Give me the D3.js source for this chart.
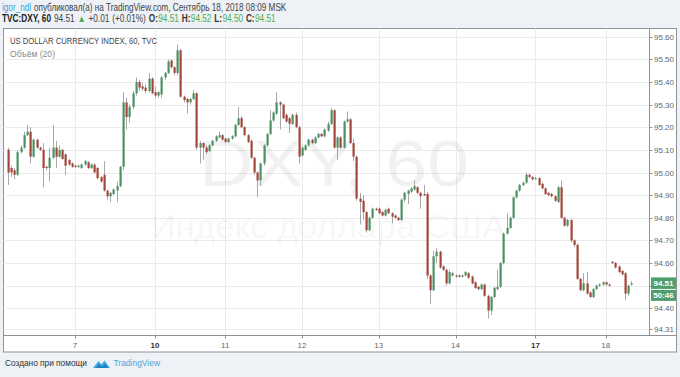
<!DOCTYPE html>
<html><head><meta charset="utf-8">
<script src="https://cdn.jsdelivr.net/npm/d3@7"></script>
<style>html,body{margin:0;padding:0;background:#eef1f5;}svg{display:block;font-family:"Liberation Sans",Arial,sans-serif;}</style>
</head><body><svg id="c" width="680" height="377"></svg>
<script>
// ---- DATA ----
const opens = [95.10,95.02,95.01,94.99,95.09,95.11,95.165,95.18,95.07,95.145,95.11,95.10,95.025,95.02,95.065,95.11,95.07,95.10,95.08,95.055,95.04,95.03,95.025,95.02,95.035,95.045,95.02,95.035,95.02,94.98,94.99,94.92,94.895,94.905,94.92,94.94,95.025,95.31,95.245,95.29,95.35,95.40,95.38,95.375,95.36,95.415,95.355,95.34,95.345,95.42,95.44,95.495,95.465,95.44,95.54,95.335,95.325,95.31,95.325,95.35,95.11,95.13,95.11,95.095,95.12,95.14,95.155,95.165,95.15,95.135,95.15,95.16,95.21,95.24,95.20,95.165,95.14,95.065,95.00,94.965,95.04,95.12,95.17,95.23,95.26,95.31,95.30,95.255,95.24,95.215,95.255,95.20,95.075,95.10,95.12,95.145,95.13,95.155,95.17,95.16,95.185,95.215,95.275,95.11,95.155,95.11,95.225,95.235,95.13,95.07,94.885,94.875,94.825,94.745,94.80,94.84,94.84,94.825,94.81,94.84,94.82,94.81,94.80,94.79,94.88,94.905,94.915,94.925,94.935,94.91,94.905,94.905,94.545,94.48,94.63,94.65,94.585,94.57,94.51,94.545,94.545,94.545,94.54,94.545,94.555,94.54,94.515,94.495,94.485,94.505,94.455,94.39,94.45,94.485,94.495,94.60,94.73,94.755,94.80,94.89,94.92,94.945,94.955,94.99,94.98,94.975,94.975,94.95,94.93,94.91,94.905,94.895,94.87,94.935,94.80,94.765,94.79,94.70,94.68,94.53,94.48,94.51,94.47,94.45,94.485,94.50,94.505,94.515,94.505,94.605,94.60,94.585,94.565,94.555,94.465,94.51];
const highs = [95.11,95.03,95.02,95.10,95.12,95.18,95.21,95.20,95.15,95.15,95.115,95.13,95.03,95.11,95.21,95.14,95.12,95.105,95.085,95.06,95.045,95.035,95.035,95.04,95.055,95.05,95.04,95.04,95.025,94.985,95.05,94.925,94.915,94.93,94.96,95.03,95.355,95.33,95.30,95.36,95.42,95.41,95.395,95.39,95.44,95.42,95.38,95.36,95.425,95.445,95.50,95.50,95.47,95.565,95.545,95.34,95.33,95.33,95.365,95.355,95.14,95.135,95.12,95.125,95.145,95.165,95.18,95.17,95.155,95.155,95.165,95.215,95.29,95.25,95.205,95.17,95.145,95.07,95.005,95.045,95.125,95.175,95.275,95.27,95.355,95.315,95.305,95.26,95.245,95.26,95.265,95.205,95.115,95.125,95.15,95.15,95.16,95.175,95.175,95.195,95.225,95.285,95.28,95.16,95.16,95.23,95.27,95.24,95.15,95.075,94.91,94.90,94.83,94.805,94.845,94.845,94.845,94.83,94.84,94.845,94.825,94.815,94.805,94.885,94.915,94.925,94.935,94.965,94.94,94.915,94.945,94.915,94.55,94.655,94.665,94.655,94.59,94.575,94.57,94.56,94.55,94.55,94.55,94.565,94.56,94.545,94.52,94.50,94.51,94.51,94.46,94.455,94.495,94.57,94.605,94.735,94.82,94.805,94.895,94.925,94.95,94.96,95.00,94.995,94.985,94.98,94.98,94.955,94.935,94.915,94.91,94.90,94.94,94.965,94.805,94.795,94.795,94.705,94.685,94.535,94.555,94.56,94.475,94.49,94.505,94.51,94.52,94.52,94.51,94.61,94.605,94.59,94.57,94.56,94.505,94.52];
const lows = [94.945,94.98,94.97,94.985,95.085,95.105,95.16,95.04,95.065,95.105,95.095,94.935,95.01,94.96,95.06,95.02,95.065,95.055,94.99,95.03,95.02,95.02,95.02,95.015,95.03,95.015,95.015,94.995,94.97,94.955,94.915,94.88,94.87,94.90,94.87,94.935,95.01,95.19,95.22,95.28,95.34,95.36,95.36,95.35,95.355,95.345,95.33,95.33,95.33,95.41,95.435,95.46,95.43,95.43,95.33,95.31,95.26,95.30,95.32,95.10,95.04,95.055,95.08,95.09,95.115,95.135,95.15,95.14,95.13,95.13,95.145,95.155,95.205,95.195,95.16,95.13,95.06,94.99,94.89,94.94,95.03,95.115,95.165,95.225,95.255,95.19,95.235,95.22,95.175,95.21,95.195,95.04,95.07,95.095,95.115,95.125,95.125,95.15,95.155,95.155,95.18,95.21,95.105,95.055,95.105,95.105,95.22,95.125,95.05,94.875,94.77,94.79,94.735,94.74,94.795,94.83,94.815,94.805,94.805,94.815,94.775,94.795,94.785,94.785,94.87,94.86,94.91,94.92,94.905,94.84,94.895,94.53,94.42,94.475,94.60,94.575,94.565,94.50,94.505,94.54,94.535,94.535,94.535,94.54,94.53,94.505,94.485,94.48,94.48,94.45,94.355,94.37,94.445,94.48,94.49,94.595,94.725,94.75,94.795,94.885,94.915,94.94,94.95,94.975,94.965,94.97,94.94,94.925,94.90,94.895,94.89,94.87,94.865,94.795,94.76,94.76,94.69,94.67,94.525,94.475,94.475,94.46,94.445,94.445,94.48,94.495,94.50,94.50,94.495,94.595,94.575,94.555,94.545,94.435,94.455,94.50];
const closes = [95.00,95.00,94.99,95.09,95.11,95.165,95.18,95.07,95.145,95.11,95.10,95.02,95.02,95.065,95.11,95.07,95.10,95.06,95.03,95.035,95.025,95.025,95.03,95.035,95.05,95.02,95.035,95.00,94.975,94.96,94.92,94.895,94.91,94.925,94.94,95.025,95.31,95.245,95.29,95.35,95.40,95.375,95.37,95.36,95.415,95.35,95.34,95.355,95.42,95.44,95.49,95.465,95.44,95.54,95.335,95.32,95.31,95.325,95.35,95.11,95.13,95.11,95.09,95.12,95.14,95.16,95.165,95.145,95.135,95.15,95.16,95.21,95.24,95.20,95.165,95.135,95.065,95.00,94.965,95.04,95.12,95.17,95.23,95.265,95.31,95.30,95.24,95.225,95.215,95.255,95.20,95.07,95.11,95.12,95.145,95.13,95.155,95.17,95.16,95.19,95.215,95.275,95.11,95.155,95.11,95.225,95.235,95.13,95.07,94.885,94.87,94.825,94.745,94.80,94.84,94.835,94.82,94.81,94.835,94.82,94.805,94.80,94.79,94.88,94.91,94.92,94.93,94.94,94.91,94.895,94.90,94.545,94.48,94.63,94.65,94.58,94.57,94.51,94.56,94.555,94.54,94.54,94.545,94.56,94.535,94.51,94.49,94.485,94.505,94.455,94.39,94.45,94.49,94.495,94.60,94.73,94.755,94.80,94.89,94.92,94.945,94.955,94.99,94.98,94.97,94.975,94.945,94.93,94.905,94.90,94.895,94.875,94.935,94.80,94.765,94.79,94.70,94.68,94.53,94.48,94.51,94.465,94.45,94.485,94.50,94.505,94.515,94.505,94.50,94.60,94.58,94.56,94.55,94.465,94.50,94.51];
const dayLabels = ["7","10","11","12","13","14","17","18"];
const dayStartBar = [21,46,68,92,116,140,165,187];
const weekStartDays = ["10","17"];
const priceTicks = [95.60,95.50,95.40,95.30,95.20,95.10,95.00,94.90,94.80,94.70,94.60,94.50,94.40,94.31];
const change = "+0.01", changePct = "(+0.01%)";
const countdown = "50:46";
const publisher = "igor_ndl";
const publishedText = "опубликовал(а) на TradingView.com, Сентябрь 18, 2018 08:09 MSK";
const symbolLine = "TVC:DXY, 60";
const symbolTitle = "US DOLLAR CURRENCY INDEX, 60, TVC";
const volumeLabel = "Объём (20)";
const watermark1 = "DXY, 60";
const watermark2 = "Индекс доллара США";

// ---- LAYOUT ----
const svg = d3.select("#c");
const plotL = 3.5, plotR = 649.5, plotT = 28.5, plotB = 335.5, frameR = 676.5, frameB = 352;
const up = "#4a9164", down = "#a3453a", wick = "#a8a8a8", green = "#4caf50";

svg.append("rect").attr("width",680).attr("height",377).attr("fill","#eef1f5");
svg.append("rect").attr("x",plotL).attr("y",plotT).attr("width",frameR-plotL).attr("height",frameB-plotT)
  .attr("fill","#fff").attr("stroke","#8e9398");

const x = d3.scaleLinear().domain([-1.5, closes.length + 4.5]).range([3, 649]);
const y = d3.scaleLinear().domain([94.40, 95.60]).range([308.3, 36.7]);

// grid
const g = svg.append("g");
g.selectAll("line.h").data(priceTicks).join("line")
  .attr("x1",plotL).attr("x2",plotR).attr("y1",d=>Math.round(y(d))+0.5).attr("y2",d=>Math.round(y(d))+0.5)
  .attr("stroke","#ebebeb");
g.selectAll("line.v").data(dayStartBar).join("line")
  .attr("x1",d=>Math.round(x(d))+0.5).attr("x2",d=>Math.round(x(d))+0.5).attr("y1",plotT).attr("y2",plotB)
  .attr("stroke","#ebebeb");

// watermark
svg.append("text").attr("x",334).attr("y",186).attr("text-anchor","middle").attr("font-size",64)
  .attr("fill","#000").attr("fill-opacity",0.055).attr("textLength",270).attr("lengthAdjust","spacingAndGlyphs").text(watermark1);
svg.append("text").attr("x",328).attr("y",238).attr("text-anchor","middle").attr("font-size",33)
  .attr("fill","#000").attr("fill-opacity",0.055).attr("textLength",355).attr("lengthAdjust","spacingAndGlyphs").text(watermark2);

// candles
const idx = d3.range(closes.length);
const cg = svg.append("g");
cg.selectAll("line.w").data(idx).join("line")
  .attr("x1",i=>Math.round(x(i))+0.5).attr("x2",i=>Math.round(x(i))+0.5)
  .attr("y1",i=>y(highs[i])).attr("y2",i=>y(lows[i]))
  .attr("stroke",wick).attr("stroke-width",1);
cg.selectAll("rect.b").data(idx).join("rect")
  .attr("x",i=>Math.round(x(i))-0.5).attr("width",2.2)
  .attr("y",i=>y(Math.max(opens[i],closes[i])))
  .attr("height",i=>Math.max(1.2, Math.abs(y(opens[i])-y(closes[i]))))
  .attr("fill",i=>closes[i]>=opens[i]?up:down);

// axes lines
svg.append("line").attr("x1",plotR).attr("x2",plotR).attr("y1",plotT).attr("y2",plotB).attr("stroke","#8e9398");
svg.append("line").attr("x1",plotL).attr("x2",frameR).attr("y1",plotB).attr("y2",plotB).attr("stroke","#8e9398");

// last price
const last = closes[closes.length-1];
const ly = y(last);

// price axis
const ya = svg.append("g");
ya.selectAll("line").data(priceTicks).join("line")
  .attr("x1",plotR).attr("x2",plotR+3).attr("y1",d=>Math.round(y(d))+0.5).attr("y2",d=>Math.round(y(d))+0.5).attr("stroke","#8e9398");
ya.selectAll("text").data(priceTicks.filter(d=>y(d) < ly-9 || y(d) > ly+20)).join("text")
  .attr("x",654).attr("y",d=>y(d)+3).attr("font-size",8).attr("fill","#666").text(d=>d.toFixed(2));

// time axis
const xa = svg.append("g");
xa.selectAll("line").data(dayStartBar).join("line")
  .attr("x1",d=>Math.round(x(d))+0.5).attr("x2",d=>Math.round(x(d))+0.5).attr("y1",plotB).attr("y2",plotB+3).attr("stroke","#8e9398");
xa.selectAll("text").data(dayLabels).join("text")
  .attr("x",(d,i)=>x(dayStartBar[i])).attr("y",348).attr("text-anchor","middle").attr("font-size",8)
  .attr("font-weight",d=>weekStartDays.includes(d)?"bold":"normal")
  .attr("fill",d=>weekStartDays.includes(d)?"#333":"#666").text(d=>d);

// last price labels
svg.append("rect").attr("x",651).attr("y",ly-6).attr("width",25).attr("height",11.5).attr("fill","#4f9e6e");
svg.append("text").attr("x",663.5).attr("y",ly+3).attr("text-anchor","middle").attr("font-size",8).attr("font-weight","bold").attr("fill","#fff").text(last.toFixed(2));
svg.append("rect").attr("x",651).attr("y",ly+6.5).attr("width",25).attr("height",11).attr("fill","#4f9e6e");
svg.append("text").attr("x",663.5).attr("y",ly+15).attr("text-anchor","middle").attr("font-size",8).attr("font-weight","bold").attr("fill","#fff").text(countdown);

// in-plot titles
svg.append("text").attr("x",10).attr("y",43.5).attr("font-size",9.5).attr("fill","#444")
  .attr("textLength",147).attr("lengthAdjust","spacingAndGlyphs").text(symbolTitle);
svg.append("text").attr("x",10).attr("y",57).attr("font-size",9.5).attr("fill","#888")
  .attr("textLength",45).attr("lengthAdjust","spacingAndGlyphs").text(volumeLabel);

// header rows: pieces laid out at natural widths inside a horizontally scaled group
function row(parts, x0, yb, target, size) {
  const grp = svg.append("g");
  const els = parts.map(p => grp.append("text").attr("y",0).attr("font-size",size)
    .attr("font-weight",p.bold?"bold":"normal").attr("fill",p.fill).text(p.t));
  const ws = els.map(e => e.node().getComputedTextLength());
  const gapW = size*0.3;
  let cx = 0;
  els.forEach((e,i)=>{
    if (parts[i].gap) cx += gapW;
    e.attr("x",cx);
    cx += ws[i] + 0.4;
  });
  const k = target/cx;
  grp.attr("transform",`translate(${x0},${yb}) scale(${k},1)`);
}
row([{t:publisher,fill:"#3ba4dc"},{t:publishedText,fill:"#444",gap:true}], 2, 11, 285, 10);

const o = opens[opens.length-1], h = highs[highs.length-1], l = lows[lows.length-1];
const parts2 = [
  {t:symbolLine,fill:"#222",bold:true},
  {t:last.toFixed(2),fill:"#444",gap:true},
  {t:"▲",fill:green,gap:true},
  {t:change,fill:"#444",gap:true},
  {t:changePct,fill:"#444",gap:true}
];
[["O:",o],["H:",h],["L:",l],["C:",last]].forEach(([kk,v])=>{
  parts2.push({t:kk,fill:"#333",bold:true,gap:true});
  parts2.push({t:v.toFixed(2),fill:green});
});
row(parts2, 2, 22, 274, 10);

// footer
svg.append("text").attr("x",5).attr("y",366).attr("font-size",9.5).attr("fill","#333")
  .attr("textLength",82).attr("lengthAdjust","spacingAndGlyphs").text("Создано при помощи");
svg.append("path").attr("d","M93,368 L98.5,361 L101.5,364.5 L104.5,360.5 L110,368 Z").attr("fill","#3ca8e0");
svg.append("path").attr("d","M96,368 L99,364 L102,367 L105,363.5 L108,368 Z").attr("fill","#1f7fc0");
svg.append("text").attr("x",113.5).attr("y",366).attr("font-size",9.5).attr("fill","#4fa7d9")
  .attr("textLength",46.5).attr("lengthAdjust","spacingAndGlyphs").text("TradingView");
</script></body></html>
